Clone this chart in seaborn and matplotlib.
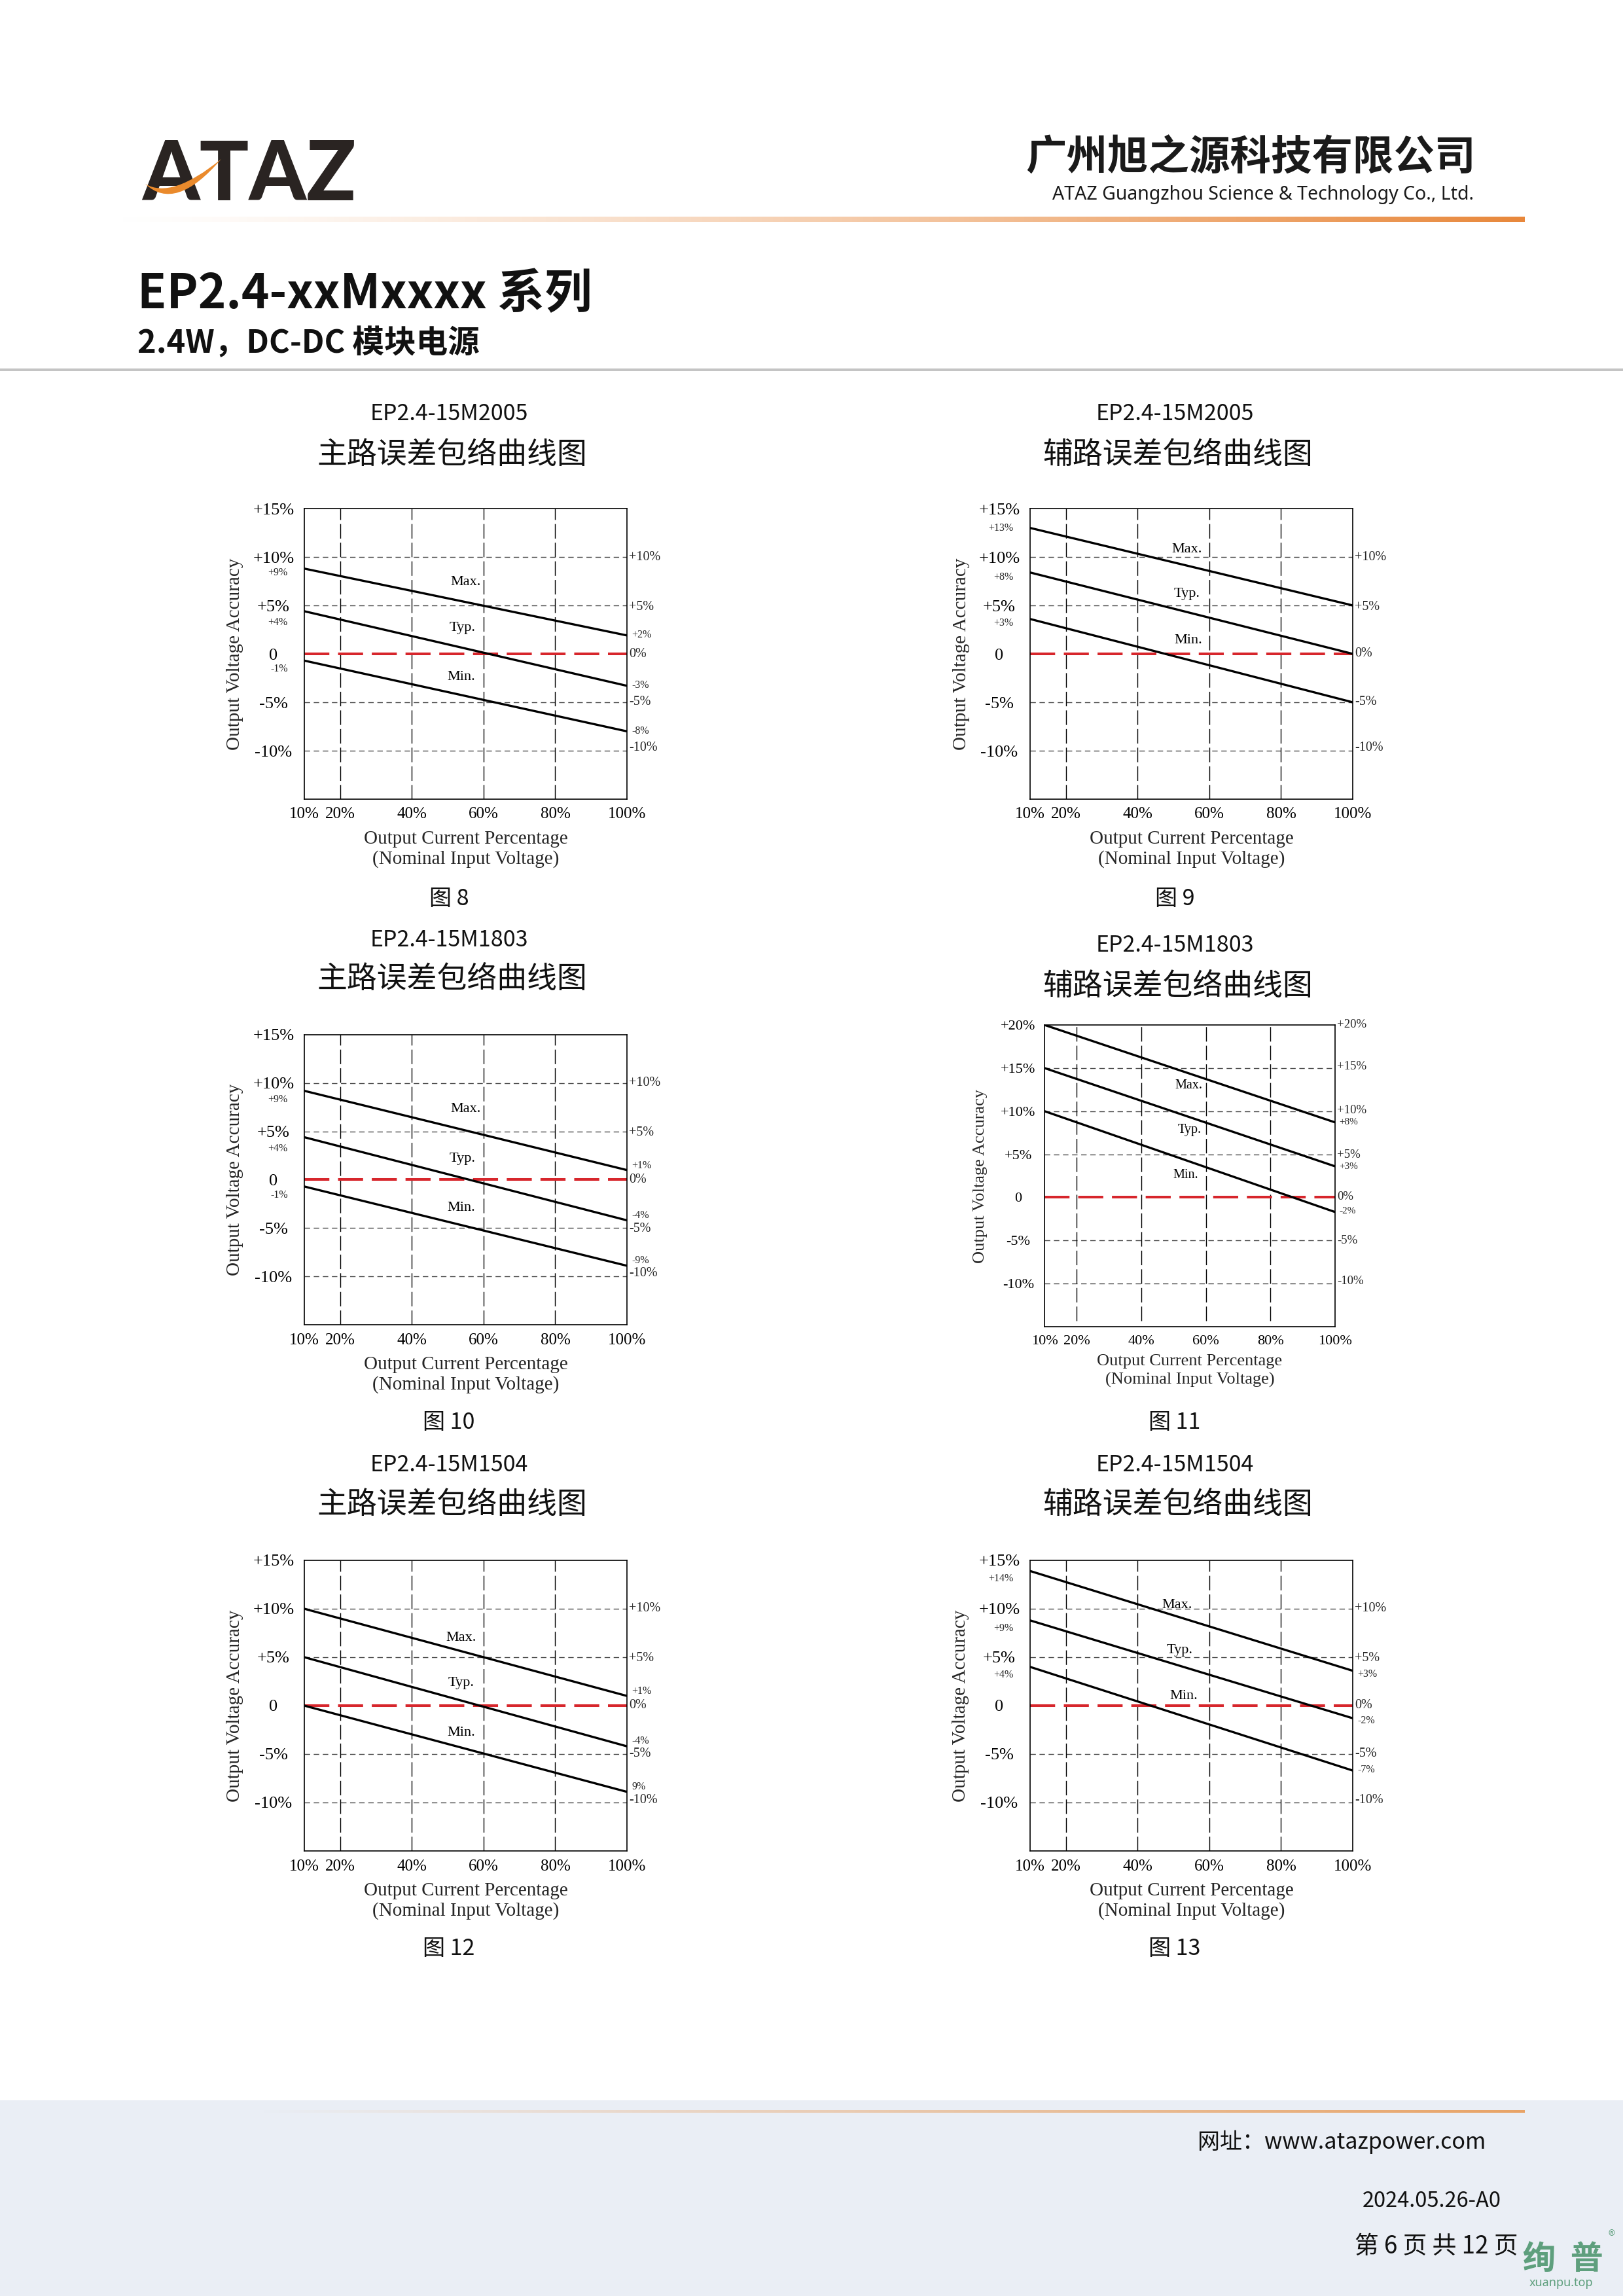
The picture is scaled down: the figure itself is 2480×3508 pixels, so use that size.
import numpy as np
import pandas as pd
import matplotlib
matplotlib.use("Agg")
import matplotlib.pyplot as plt
import seaborn as sns
from matplotlib.patches import Rectangle, PathPatch
from matplotlib.path import Path

# ---------------- data ----------------
load_pct = [10, 100]
x_ticks = [10, 20, 40, 60, 80, 100]
x_tick_labels = ["10%", "20%", "40%", "60%", "80%", "100%"]
v_grid = [20, 40, 60, 80]

y_ticks_15 = [15, 10, 5, 0, -5, -10]
y_labels_15 = ["+15%", "+10%", "+5%", "0", "-5%", "-10%"]
h_grid_15 = [10, 5, -5, -10]
y_ticks_20 = [20, 15, 10, 5, 0, -5, -10]
y_labels_20 = ["+20%", "+15%", "+10%", "+5%", "0", "-5%", "-10%"]
h_grid_20 = [15, 10, 5, -5, -10]

models = ["EP2.4-15M2005", "EP2.4-15M2005", "EP2.4-15M1803",
          "EP2.4-15M1803", "EP2.4-15M1504", "EP2.4-15M1504"]
chart_titles = ["主路误差包络曲线图", "辅路误差包络曲线图", "主路误差包络曲线图",
                "辅路误差包络曲线图", "主路误差包络曲线图", "辅路误差包络曲线图"]
fig_labels = ["图 8", "图 9", "图 10", "图 11", "图 12", "图 13"]

curve_names = ["Max.", "Typ.", "Min."]

fig8_max = [8.8, 1.9]
fig8_typ = [4.4, -3.3]
fig8_min = [-0.7, -8.0]
fig9_max = [13.0, 5.0]
fig9_typ = [8.4, 0.0]
fig9_min = [3.6, -5.0]
fig10_max = [9.2, 1.0]
fig10_typ = [4.4, -4.2]
fig10_min = [-0.7, -8.9]
fig11_max = [20.0, 8.7]
fig11_typ = [15.0, 3.6]
fig11_min = [10.0, -1.7]
fig12_max = [10.0, 1.0]
fig12_typ = [5.0, -4.2]
fig12_min = [0.0, -8.9]
fig13_max = [13.9, 3.6]
fig13_typ = [8.8, -1.3]
fig13_min = [4.0, -6.7]

# curve name annotations: (load %, accuracy %)
fig8_ann = [(55.0, 7.4), (54.1, 2.7), (53.7, -2.4)]
fig9_ann = [(53.7, 10.8), (53.7, 6.2), (54.1, 1.4)]
fig10_ann = [(55.0, 7.3), (54.1, 2.2), (53.7, -2.9)]
fig11_ann = [(54.7, 12.95), (55.0, 7.8), (53.7, 2.6)]
fig12_ann = [(53.7, 7.0), (53.7, 2.3), (53.7, -2.8)]
fig13_ann = [(51.0, 10.4), (51.8, 5.7), (52.8, 1.0)]

# small labels on the left of the plot
fig8_left_txt = ["+9%", "+4%", "-1%"]
fig8_left_val = [8.4, 3.25, -1.56]
fig9_left_txt = ["+13%", "+8%", "+3%"]
fig9_left_val = [13.0, 7.9, 3.2]
fig10_left_txt = ["+9%", "+4%", "-1%"]
fig10_left_val = [8.3, 3.2, -1.6]
fig11_left_txt = []
fig11_left_val = []
fig12_left_txt = []
fig12_left_val = []
fig13_left_txt = ["+14%", "+9%", "+4%"]
fig13_left_val = [13.1, 7.95, 3.17]

# right side labels (grid levels)
fig8_rmaj_txt = ["+10%", "+5%", "0%", "-5%", "-10%"]
fig8_rmaj_val = [10.0, 4.86, 0.0, -4.96, -9.7]
fig9_rmaj_txt = ["+10%", "+5%", "0%", "-5%", "-10%"]
fig9_rmaj_val = [10.0, 4.85, 0.05, -4.96, -9.7]
fig10_rmaj_txt = ["+10%", "+5%", "0%", "-5%", "-10%"]
fig10_rmaj_val = [10.0, 4.9, 0.0, -5.05, -9.7]
fig11_rmaj_txt = ["+20%", "+15%", "+10%", "+5%", "0%", "-5%", "-10%"]
fig11_rmaj_val = [20.05, 15.15, 10.1, 4.9, 0.06, -5.0, -9.76]
fig12_rmaj_txt = ["+10%", "+5%", "0%", "-5%", "-10%"]
fig12_rmaj_val = [10.05, 4.9, 0.0, -5.0, -9.74]
fig13_rmaj_txt = ["+10%", "+5%", "0%", "-5%", "-10%"]
fig13_rmaj_val = [10.05, 4.9, 0.05, -5.0, -9.74]

# right side labels (curve end values)
fig8_rmin_txt = ["+2%", "-3%", "-8%"]
fig8_rmin_val = [1.95, -3.25, -8.0]
fig9_rmin_txt = []
fig9_rmin_val = []
fig10_rmin_txt = ["+1%", "-4%", "-9%"]
fig10_rmin_val = [1.43, -3.72, -8.36]
fig11_rmin_txt = ["+8%", "+3%", "-2%"]
fig11_rmin_val = [8.74, 3.6, -1.6]
fig12_rmin_txt = ["+1%", "-4%", "9%"]
fig12_rmin_val = [1.48, -3.64, -8.39]
fig13_rmin_txt = ["+3%", "-2%", "-7%"]
fig13_rmin_val = [3.25, -1.56, -6.62]

# ---------------- figure ----------------
W, H = 2480, 3508
sns.set_theme(style="white")
plt.rcParams["font.family"] = ["Noto Sans CJK SC", "DejaVu Sans"]
SERIF = ["Liberation Serif", "DejaVu Serif"]

fig = plt.figure(figsize=(W / 100, H / 100), dpi=100)
fig.patch.set_facecolor("white")


def fx(x):
    return x / W


def fy(y):
    return 1 - y / H


def ptext(x, y, s, **kw):
    kw.setdefault("ha", "center")
    kw.setdefault("va", "center")
    return fig.text(fx(x), fy(y), s, **kw)


def gradient_bar(x0, x1, yc, h, rgb, power=1.0, start=0.0):
    ax = fig.add_axes([fx(x0), fy(yc + h / 2), (x1 - x0) / W, h / H])
    t = np.linspace(0, 1, 600)
    a = np.clip((t - start) / (1 - start), 0, 1) ** power
    img = np.zeros((2, 600, 4))
    img[..., 0] = rgb[0]
    img[..., 1] = rgb[1]
    img[..., 2] = rgb[2]
    img[..., 3] = a
    ax.imshow(img, aspect="auto", extent=[0, 1, 0, 1], interpolation="bilinear")
    ax.set_axis_off()


# ---------- header ----------
ptext(217, 306, "ATAZ", ha="left", va="baseline", fontsize=90,
      family=["Lato", "DejaVu Sans"], fontweight="black", color="#2a2422")
sw = [(222, 281), (262, 305), (338, 243), (268, 325), (222, 281), (222, 281)]
codes = [Path.MOVETO, Path.CURVE3, Path.CURVE3, Path.CURVE3, Path.CURVE3, Path.CLOSEPOLY]
sw_path = Path([(fx(x), fy(y)) for x, y in sw], codes)
fig.add_artist(PathPatch(sw_path, transform=fig.transFigure, facecolor="#ea8a2c",
                         edgecolor="none", zorder=5))

ptext(2255, 241, "广州旭之源科技有限公司", ha="right", fontsize=45,
      fontweight="bold", color="#1a1a1a")
ptext(2252, 297, "ATAZ Guangzhou Science & Technology Co., Ltd.", ha="right",
      fontsize=20.5, color="#1a1a1a", family=["Noto Sans", "DejaVu Sans"])
gradient_bar(156, 2330, 335, 8, (0.91, 0.53, 0.23), power=1.3)

ptext(210, 450, "EP2.4-xxMxxxx 系列", ha="left", fontsize=52, color="#111111",
      fontweight="bold")
ptext(210, 525, "2.4W，DC-DC 模块电源", ha="left", fontsize=35, color="#111111",
      fontweight="bold")
fig.add_artist(Rectangle((0, fy(567)), 1, 4 / H, transform=fig.transFigure,
                         facecolor="#c4c4c4", edgecolor="none"))

# ---------- footer ----------
fig.add_artist(Rectangle((0, 0), 1, fy(3209), transform=fig.transFigure,
                         facecolor="#eaeef5", edgecolor="none", zorder=0))
gradient_bar(395, 2330, 3226, 4, (0.91, 0.64, 0.40), power=1.0)
ptext(2270, 3273, "网址：www.atazpower.com", ha="right", fontsize=24.5, color="#111111")
ptext(2294, 3363, "2024.05.26-A0", ha="right", fontsize=23.5, color="#111111")
ptext(2320, 3432, "第 6 页 共 12 页", ha="right", fontsize=26.5, color="#111111")
ptext(2388, 3452, "绚  普", fontsize=36, fontweight="bold", color="#5e9f7d")
ptext(2462, 3418, "®", fontsize=15, color="#5e9f7d")
ptext(2385, 3488, "xuanpu.top", fontsize=13, color="#5e9f7d",
      family=["Noto Sans", "DejaVu Sans"])

# ---------- charts ----------
series = [
    (fig8_max, fig8_typ, fig8_min), (fig9_max, fig9_typ, fig9_min),
    (fig10_max, fig10_typ, fig10_min), (fig11_max, fig11_typ, fig11_min),
    (fig12_max, fig12_typ, fig12_min), (fig13_max, fig13_typ, fig13_min),
]
anns = [fig8_ann, fig9_ann, fig10_ann, fig11_ann, fig12_ann, fig13_ann]
lefts = [(fig8_left_txt, fig8_left_val), (fig9_left_txt, fig9_left_val),
         (fig10_left_txt, fig10_left_val), (fig11_left_txt, fig11_left_val),
         (fig12_left_txt, fig12_left_val), (fig13_left_txt, fig13_left_val)]
rmajs = [(fig8_rmaj_txt, fig8_rmaj_val), (fig9_rmaj_txt, fig9_rmaj_val),
         (fig10_rmaj_txt, fig10_rmaj_val), (fig11_rmaj_txt, fig11_rmaj_val),
         (fig12_rmaj_txt, fig12_rmaj_val), (fig13_rmaj_txt, fig13_rmaj_val)]
rmins = [(fig8_rmin_txt, fig8_rmin_val), (fig9_rmin_txt, fig9_rmin_val),
         (fig10_rmin_txt, fig10_rmin_val), (fig11_rmin_txt, fig11_rmin_val),
         (fig12_rmin_txt, fig12_rmin_val), (fig13_rmin_txt, fig13_rmin_val)]

# layout (pixels): axes box l, r, t, b ; title rows ; y-label x
layouts = [
    dict(box=(465, 958, 777, 1221), cx=686, t1=633, t2=695, fl=1373, ylx=359, big=False),
    dict(box=(1574, 2067, 777, 1221), cx=1795, t1=633, t2=695, fl=1373, ylx=1469, big=False),
    dict(box=(465, 958, 1581, 2024), cx=686, t1=1436, t2=1496, fl=2173, ylx=359, big=False),
    dict(box=(1596, 2040, 1566, 2027), cx=1795, t1=1445, t2=1507, fl=2173, ylx=1498, big=True),
    dict(box=(465, 958, 2384, 2828), cx=686, t1=2238, t2=2299, fl=2978, ylx=359, big=False),
    dict(box=(1574, 2067, 2384, 2828), cx=1795, t1=2238, t2=2299, fl=2978, ylx=1468, big=False),
]

for i, lay in enumerate(layouts):
    l, r, t, b = lay["box"]
    wide = lay["big"]
    ax = fig.add_axes([fx(l), fy(b), (r - l) / W, (b - t) / H])
    ax.set_facecolor("white")
    if wide:
        ylim, yt, yl, hg = (-15, 20), y_ticks_20, y_labels_20, h_grid_20
        fs_tick, fs_x, fs_lab, fs_ann, fs_rmaj, fs_rmin = 16, 16, 19, 14.5, 13.5, 11
        xl1, xl2, vmin = 53, 81, 0.02
    else:
        ylim, yt, yl, hg = (-15, 15), y_ticks_15, y_labels_15, h_grid_15
        fs_tick, fs_x, fs_lab, fs_ann, fs_rmaj, fs_rmin = 19, 18, 21, 16, 14.5, 11.5
        xl1, xl2, vmin = 61, 92, 0.0
    ax.set_xlim(10, 100)
    ax.set_ylim(*ylim)

    for yv in hg:
        ax.axhline(yv, color="#4a4a4a", lw=1.0, dashes=(6, 4), zorder=1)
    for xv in v_grid:
        ax.axvline(xv, ymin=vmin, color="black", lw=1.0, dashes=(16, 4.5), zorder=1)
    ax.axhline(0, color="#d7262c", lw=2.9, dashes=(9.5, 3.3), zorder=2)

    for vals in series[i]:
        sns.lineplot(x=load_pct, y=vals, ax=ax, color="black", linewidth=2.4,
                     zorder=3)
    ax.set_xlabel("")
    ax.set_ylabel("")

    ax.set_xticks(x_ticks, x_tick_labels)
    ax.set_yticks(yt, yl)
    for lab in ax.get_xticklabels():
        lab.set_fontfamily(SERIF)
        lab.set_fontsize(fs_x)
    for lab in ax.get_yticklabels():
        lab.set_fontfamily(SERIF)
        lab.set_fontsize(fs_tick)
        lab.set_ha("center")
    ax.tick_params(axis="x", length=0, pad=9, colors="black")
    ax.tick_params(axis="y", length=0, pad=(29 if wide else 34), colors="black")
    for s in ax.spines.values():
        s.set_visible(True)
        s.set_color("black")
        s.set_linewidth(1.2)

    for name, (xa, ya) in zip(curve_names, anns[i]):
        ax.text(xa, ya, name, ha="center", va="center", fontsize=fs_ann,
                family=SERIF, color="black", zorder=4)
    ltxt, lval = lefts[i]
    for s, v in zip(ltxt, lval):
        ax.text(5.4, v, s, ha="right", va="center", fontsize=11.5, family=SERIF,
                clip_on=False)
    rtxt, rval = rmajs[i]
    for s, v in zip(rtxt, rval):
        ax.text(100.6, v, s, ha="left", va="center", fontsize=fs_rmaj, family=SERIF,
                clip_on=False)
    rtxt, rval = rmins[i]
    for s, v in zip(rtxt, rval):
        ax.text(101.3, v, s, ha="left", va="center", fontsize=fs_rmin, family=SERIF,
                clip_on=False)

    # axis titles
    ptext(lay["ylx"], (t + b) / 2, "Output Voltage Accuracy", rotation=90,
          fontsize=fs_lab, family=SERIF)
    ptext((l + r) / 2, b + xl1, "Output Current Percentage", fontsize=fs_lab,
          family=SERIF)
    ptext((l + r) / 2, b + xl2, "(Nominal Input Voltage)", fontsize=fs_lab,
          family=SERIF)

    # chart titles and figure number
    ptext(lay["cx"], lay["t1"], models[i], fontsize=24.5, color="#111111")
    ptext(lay["cx"] + 5, lay["t2"], chart_titles[i], fontsize=33, color="#111111")
    ptext(lay["cx"], lay["fl"], fig_labels[i], fontsize=24.5, color="#111111",
          fontweight="medium")

fig.savefig("out.png", dpi=100, facecolor="white")
